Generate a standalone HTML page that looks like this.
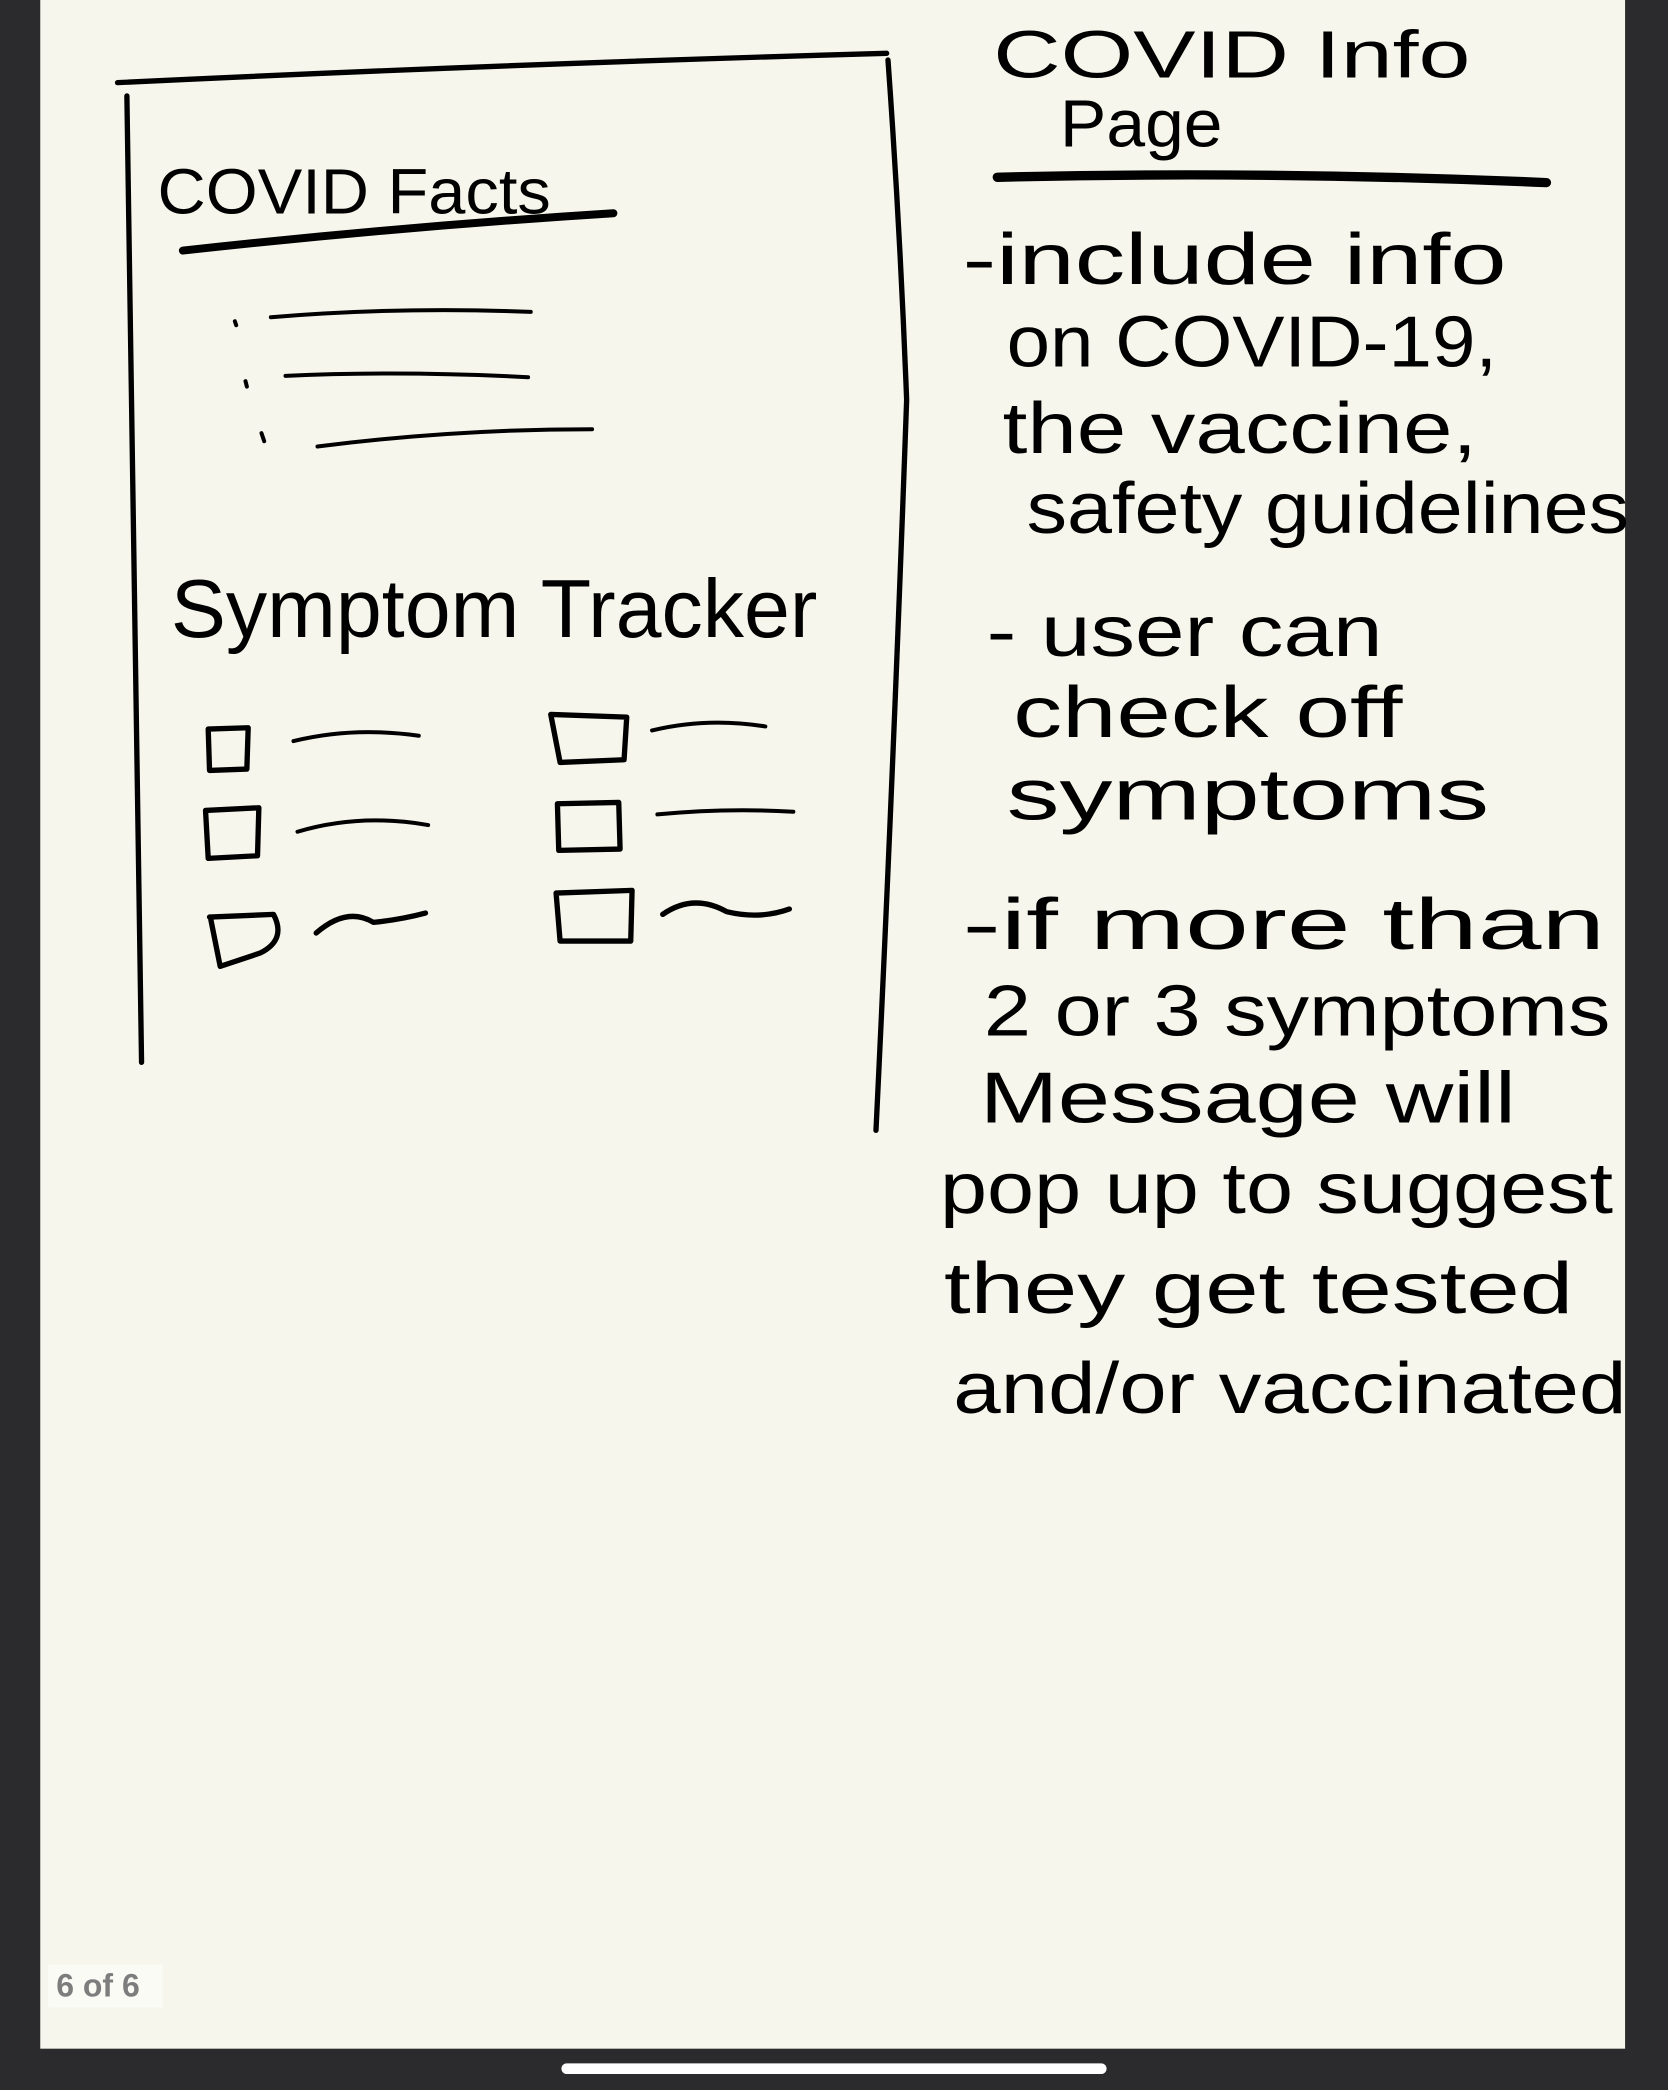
<!DOCTYPE html>
<html><head><meta charset="utf-8">
<style>
html,body{margin:0;padding:0;background:#2b2b2d;}
svg{display:block}
text{font-family:"Liberation Sans",sans-serif;fill:#000;}
</style></head>
<body>
<svg width="1668" height="2090" viewBox="0 0 1251 1568" xmlns="http://www.w3.org/2000/svg">
<rect x="0" y="0" width="1251" height="1568" fill="#2b2b2d"/>
<rect x="30" y="0" width="1189" height="1537" fill="#f6f6ec"/>
<rect x="421" y="1548" width="409" height="8" rx="4" fill="#ffffff"/>
<rect x="36" y="1474" width="86" height="32" fill="#fbfbf5"/>
<text x="42" y="1498" font-size="24" font-weight="bold" style="fill:#7d7d7d">6 of 6</text>

<g fill="none" stroke="#000" stroke-linecap="round" stroke-linejoin="round">
<path d="M88 62 Q380 48 665 40" stroke-width="4"/>
<path d="M95 72 Q102 440 106 797" stroke-width="4"/>
<path d="M666 45 Q675 170 680 300 Q670 580 657 848" stroke-width="4"/>
<path d="M748 133 Q950 128 1160 137" stroke-width="7"/>
<path d="M137 188 Q300 170 460 160" stroke-width="6"/>
<path d="M203 238 Q300 230 398 234" stroke-width="3"/>
<path d="M214 282 Q300 278 396 283" stroke-width="3"/>
<path d="M238 335 Q340 322 444 322" stroke-width="3"/>
<path d="M176 241 l1 3 M184 286 l1 4 M196 325 l2 6" stroke-width="3"/>
<path d="M156 547 L186 546 L185 577 L157 578 Z" stroke-width="4"/>
<path d="M154 608 L194 606 L193 642 L156 644 Z" stroke-width="4"/>
<path d="M157 688 L205 686 Q215 705 195 715 L165 725 L158 690" stroke-width="4"/>
<path d="M220 556 Q265 545 314 552" stroke-width="3"/>
<path d="M223 624 Q270 610 321 619" stroke-width="3"/>
<path d="M237 700 Q260 680 280 692 Q300 690 319 685" stroke-width="4"/>
<path d="M413 536 L470 538 L468 570 L420 572 Z" stroke-width="4"/>
<path d="M418 603 L464 602 L465 637 L419 638 Z" stroke-width="4"/>
<path d="M417 670 L474 668 L473 706 L420 706 Z" stroke-width="4"/>
<path d="M489 548 Q530 538 574 545" stroke-width="3"/>
<path d="M493 611 Q545 606 595 609" stroke-width="3"/>
<path d="M497 686 Q520 670 545 684 Q570 690 592 682" stroke-width="4"/>
</g>

<text x="118" y="160" font-size="48" textLength="295" lengthAdjust="spacingAndGlyphs">COVID Facts</text>
<text x="128" y="478" font-size="62" textLength="485" lengthAdjust="spacingAndGlyphs">Symptom Tracker</text>

<text x="745" y="58" font-size="50" textLength="358" lengthAdjust="spacingAndGlyphs">COVID Info</text>
<text x="795" y="110" font-size="50" textLength="122" lengthAdjust="spacingAndGlyphs">Page</text>

<g font-size="54">
<text x="722" y="213" textLength="408" lengthAdjust="spacingAndGlyphs">-include info</text>
<text x="755" y="275" textLength="368" lengthAdjust="spacingAndGlyphs">on COVID-19,</text>
<text x="752" y="340" textLength="356" lengthAdjust="spacingAndGlyphs">the vaccine,</text>
<text x="770" y="400" textLength="452" lengthAdjust="spacingAndGlyphs">safety guidelines</text>
<text x="740" y="492" textLength="297" lengthAdjust="spacingAndGlyphs">- user can</text>
<text x="760" y="553" textLength="292" lengthAdjust="spacingAndGlyphs">check off</text>
<text x="755" y="615" textLength="362" lengthAdjust="spacingAndGlyphs">symptoms</text>
<text x="722" y="712" textLength="482" lengthAdjust="spacingAndGlyphs">-if more than</text>
<text x="738" y="777" textLength="470" lengthAdjust="spacingAndGlyphs">2 or 3 symptoms</text>
<text x="735" y="842" textLength="402" lengthAdjust="spacingAndGlyphs">Message will</text>
<text x="705" y="910" textLength="505" lengthAdjust="spacingAndGlyphs">pop up to suggest</text>
<text x="708" y="985" textLength="472" lengthAdjust="spacingAndGlyphs">they get tested</text>
<text x="715" y="1060" textLength="505" lengthAdjust="spacingAndGlyphs">and/or vaccinated</text>
</g>
</svg>
</body></html>
